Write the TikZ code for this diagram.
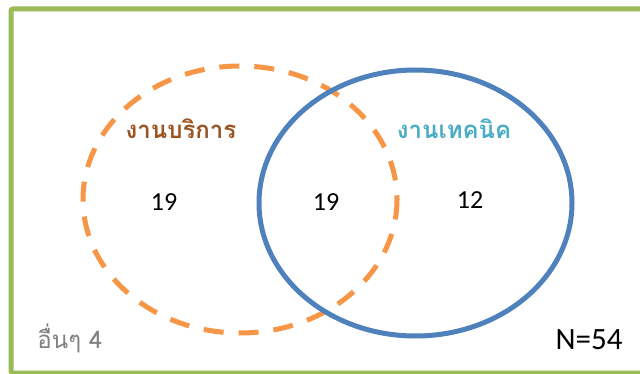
\documentclass[tikz,border=0pt]{standalone}
\usepackage{fontspec}
\setmainfont{Carlito}
\newfontfamily\thaifont[Script=Thai]{Loma}
\definecolor{frame}{HTML}{9BBB59}
\definecolor{orng}{HTML}{F79646}
\definecolor{blu}{HTML}{4F81BD}
\definecolor{brn}{HTML}{9C5421}
\definecolor{aqua}{HTML}{4BACC6}
\definecolor{gry}{HTML}{808080}
\tikzset{
  setA/.style={draw=orng, line width=5pt, dash pattern=on 20pt off 15pt},
  setB/.style={draw=blu, line width=5pt},
  label/.style={font=\thaifont\bfseries\fontsize{24}{28}\selectfont, inner sep=0pt},
  num/.style={font=\fontsize{26}{30}\selectfont, inner sep=0pt},
}
\begin{document}
\begin{tikzpicture}[x=1pt,y=-1pt]
\useasboundingbox (0,0) rectangle (640,374);
\clip (0,0) rectangle (640,374);
\fill[white] (0,0) rectangle (640,374);
\draw[frame, line width=5pt, rounded corners=2pt] (11,9) rectangle (700,373);
\draw[setA] (240,199.5) ellipse [x radius=157, y radius=133.5];
\draw[setB] (415.5,203) ellipse [x radius=156.5, y radius=133];
\node[label, text=brn] (la) at (181,129) {งานบริการ};
\node[label, text=aqua] (lb) at (454,129) {งานเทคนิค};
\node[num] (n1) at (164,202) {19};
\node[num] (n2) at (326,202) {19};
\node[num] (n3) at (470,200) {12};
\node[font=\thaifont\fontsize{24}{28}\selectfont, text=gry, inner sep=0pt] (oth) at (70,338) {อื่นๆ 4};
\node[font=\fontsize{31}{34}\selectfont, inner sep=0pt] (tot) at (589,340) {N=54};
\end{tikzpicture}
\end{document}
